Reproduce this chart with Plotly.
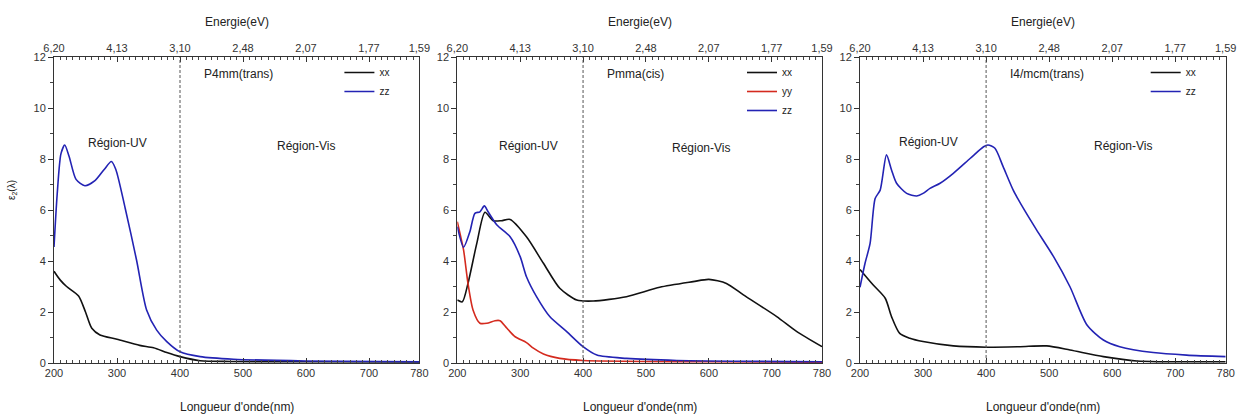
import plotly.graph_objects as go

# ---- data: imaginary part of the dielectric function, eps2(lambda) ----
wl_ticks = [200, 300, 400, 500, 600, 700, 780]
wl_tick_text = ["200", "300", "400", "500", "600", "700", "780"]
ev_tick_text = ["6,20", "4,13", "3,10", "2,48", "2,07", "1,77", "1,59"]
eps_ticks = [0, 2, 4, 6, 8, 10, 12]

# P4mm (trans)
p4_xx_wl = [200, 210, 220, 239, 250, 260, 273, 300, 336, 358, 379, 400, 432, 480, 600, 780]
p4_xx = [3.6, 3.25, 3.0, 2.63, 2.0, 1.36, 1.1, 0.93, 0.69, 0.6, 0.41, 0.25, 0.09, 0.06, 0.05, 0.04]
p4_zz_wl = [200, 205, 211, 217, 224, 235, 249, 265, 280, 291, 298, 313, 331, 347, 363, 379, 400, 432, 485, 600, 780]
p4_zz = [4.55, 6.6, 8.2, 8.55, 8.1, 7.2, 6.95, 7.15, 7.6, 7.9, 7.6, 6.07, 4.04, 2.08, 1.29, 0.84, 0.44, 0.25, 0.15, 0.08, 0.05]

# Pmma (cis)
pm_xx_wl = [200, 208, 217, 231, 244, 257, 270, 284, 310, 337, 363, 390, 416, 469, 522, 575, 600, 628, 655, 708, 740, 780]
pm_xx = [2.47, 2.4, 3.12, 4.69, 5.91, 5.58, 5.58, 5.63, 4.95, 3.91, 2.93, 2.47, 2.43, 2.6, 2.97, 3.19, 3.28, 3.12, 2.67, 1.82, 1.23, 0.64]
pm_yy_wl = [200, 205, 210, 217, 225, 236, 247, 260, 268, 279, 292, 310, 321, 337, 363, 400, 600, 780]
pm_yy = [5.54, 5.0, 4.43, 3.12, 2.08, 1.56, 1.56, 1.66, 1.66, 1.36, 1.03, 0.8, 0.58, 0.35, 0.18, 0.1, 0.05, 0.03]
pm_zz_wl = [200, 210, 220, 228, 236, 243, 249, 263, 284, 300, 310, 326, 347, 374, 400, 422, 469, 549, 780]
pm_zz = [5.35, 4.54, 5.15, 5.87, 5.93, 6.16, 5.93, 5.41, 4.95, 4.17, 3.38, 2.6, 1.82, 1.23, 0.64, 0.31, 0.18, 0.1, 0.05]

# I4/mcm (trans)
i4_xx_wl = [200, 221, 240, 250, 263, 279, 300, 348, 401, 454, 496, 533, 586, 639, 780]
i4_xx = [3.67, 3.06, 2.54, 1.82, 1.16, 0.97, 0.84, 0.67, 0.62, 0.64, 0.67, 0.51, 0.25, 0.08, 0.05]
i4_zz_wl = [200, 208, 216, 224, 232, 242, 250, 258, 274, 290, 300, 311, 327, 348, 375, 396, 403, 414, 427, 443, 459, 480, 507, 533, 560, 586, 612, 665, 718, 780]
i4_zz = [2.97, 3.91, 4.69, 6.45, 6.78, 8.16, 7.57, 7.05, 6.65, 6.55, 6.65, 6.85, 7.05, 7.44, 8.03, 8.48, 8.55, 8.42, 7.7, 6.78, 6.07, 5.22, 4.17, 2.99, 1.49, 0.9, 0.64, 0.41, 0.31, 0.25]

panel_titles = ["P4mm(trans)", "Pmma(cis)", "I4/mcm(trans)"]

BLACK = "#111111"
RED = "#d42a1e"
BLUE = "#2323b4"

W, H = 1242, 415
FONT = "Liberation Sans, Arial, sans-serif"

# pixel geometry of the three panels
panel_px = [(54, 419.4), (457.3, 822.0), (860.0, 1225.7)]
top_px, bot_px = 57, 363
ydom = [1 - bot_px / H, 1 - top_px / H]

# minor tick positions: every 10 nm and every unit of eps2
wl_minor = [v for v in range(210, 781, 10) if v not in wl_ticks]
eps_minor = [1, 3, 5, 7, 9, 11]

series = [
    [("xx", p4_xx_wl, p4_xx, BLACK), ("zz", p4_zz_wl, p4_zz, BLUE)],
    [("xx", pm_xx_wl, pm_xx, BLACK), ("yy", pm_yy_wl, pm_yy, RED), ("zz", pm_zz_wl, pm_zz, BLUE)],
    [("xx", i4_xx_wl, i4_xx, BLACK), ("zz", i4_zz_wl, i4_zz, BLUE)],
]

fig = go.Figure()
layout = dict(
    width=W, height=H,
    margin=dict(l=0, r=0, t=0, b=0, autoexpand=False),
    paper_bgcolor="white", plot_bgcolor="white",
    font=dict(family=FONT, size=11, color="#222"),
    showlegend=True,
)

annotations = []
shapes = []

for i in range(3):
    n = i + 1
    xa = "x" if n == 1 else f"x{n}"
    ya = "y" if n == 1 else f"y{n}"
    xt = f"x{n + 3}"
    legend_name = "legend" if n == 1 else f"legend{n}"
    dom = [panel_px[i][0] / W, panel_px[i][1] / W]

    for name, wl, vals, col in series[i]:
        fig.add_trace(go.Scatter(
            x=wl, y=vals, name=name, mode="lines",
            line=dict(color=col, width=1.6, shape="spline", smoothing=0.7),
            xaxis=xa, yaxis=ya, legend=legend_name, hoverinfo="skip",
        ))
    # placeholder trace so the energy axis on top is drawn
    fig.add_trace(go.Scatter(x=[300], y=[-5], xaxis=xt, yaxis=ya, mode="lines",
                             showlegend=False, hoverinfo="skip"))

    common_x = dict(
        domain=dom, range=[200, 780], tickmode="array", tickvals=wl_ticks,
        showline=True, linecolor="#333", linewidth=1, automargin=False,
        ticks="inside", ticklen=5, tickcolor="#333", tickwidth=1,
        minor=dict(tickmode="array", tickvals=wl_minor, ticks="inside", ticklen=3,
                   tickcolor="#444", tickwidth=1),
        showgrid=False, zeroline=False,
        tickfont=dict(family=FONT, size=11, color="#333"),
    )
    layout[f"xaxis{'' if n == 1 else n}"] = dict(
        common_x, anchor=ya, side="bottom", ticktext=wl_tick_text)
    layout[f"xaxis{n + 3}"] = dict(
        common_x, anchor=ya, overlaying=xa, side="top", ticktext=ev_tick_text)
    layout[f"yaxis{'' if n == 1 else n}"] = dict(
        domain=ydom, range=[0, 12], anchor=xa, automargin=False,
        tickmode="array", tickvals=eps_ticks,
        showline=True, linecolor="#333", linewidth=1, mirror=True,
        ticks="outside", ticklen=5, tickcolor="#333",
        minor=dict(tickmode="array", tickvals=eps_minor, ticks="outside", ticklen=3,
                   tickcolor="#444", tickwidth=1),
        showgrid=False, zeroline=False,
        tickfont=dict(family=FONT, size=11, color="#333"),
    )

    # legend inside the panel, upper right
    layout[legend_name] = dict(
        x=(panel_px[i][1] - 80) / W, y=1 - 58 / H, xanchor="left", yanchor="top",
        bgcolor="rgba(0,0,0,0)", borderwidth=0,
        font=dict(family=FONT, size=10, color="#222"),
        itemwidth=30, tracegroupgap=0,
    )

    # 400 nm boundary between UV and visible
    shapes.append(dict(type="line", xref=xa, yref=ya, x0=400, x1=400, y0=0, y1=12,
                       line=dict(color="#555", width=1, dash="3px,2px")))

    x0, x1 = panel_px[i]
    scale = (x1 - x0) / 580.0

    def px(wl):
        return (x0 + (wl - 200) * scale) / W

    annotations.append(dict(text=panel_titles[i], xref="paper", yref="paper",
                            x=px(400) + 22 / W, y=1 - 74 / H, xanchor="left", yanchor="middle",
                            showarrow=False, font=dict(family=FONT, size=12, color="#222")))
    annotations.append(dict(text="Energie(eV)", xref="paper", yref="paper",
                            x=(x0 + x1) / 2 / W, y=1 - 22 / H, xanchor="center", yanchor="middle",
                            showarrow=False, font=dict(family=FONT, size=12, color="#222")))
    annotations.append(dict(text="Longueur d'onde(nm)", xref="paper", yref="paper",
                            x=(x0 + x1) / 2 / W, y=1 - 407 / H, xanchor="center", yanchor="middle",
                            showarrow=False, font=dict(family=FONT, size=12, color="#222")))

uv_pos = [(117, 143), (528, 146), (928, 142)]
vis_pos = [(306, 146), (701, 148), (1123, 146)]
for (ux, uy), (vx, vy) in zip(uv_pos, vis_pos):
    annotations.append(dict(text="Région-UV", xref="paper", yref="paper", x=ux / W, y=1 - uy / H,
                            xanchor="center", yanchor="middle", showarrow=False,
                            font=dict(family=FONT, size=12, color="#222")))
    annotations.append(dict(text="Région-Vis", xref="paper", yref="paper", x=vx / W, y=1 - vy / H,
                            xanchor="center", yanchor="middle", showarrow=False,
                            font=dict(family=FONT, size=12, color="#222")))

annotations.append(dict(text="ε<sub>2</sub>(λ)", xref="paper", yref="paper", x=12 / W, y=1 - 190 / H,
                        xanchor="center", yanchor="middle", textangle=-90, showarrow=False,
                        font=dict(family=FONT, size=10, color="#222")))

layout["annotations"] = annotations
layout["shapes"] = shapes
fig.update_layout(**layout)

fig.write_html("out.html")
